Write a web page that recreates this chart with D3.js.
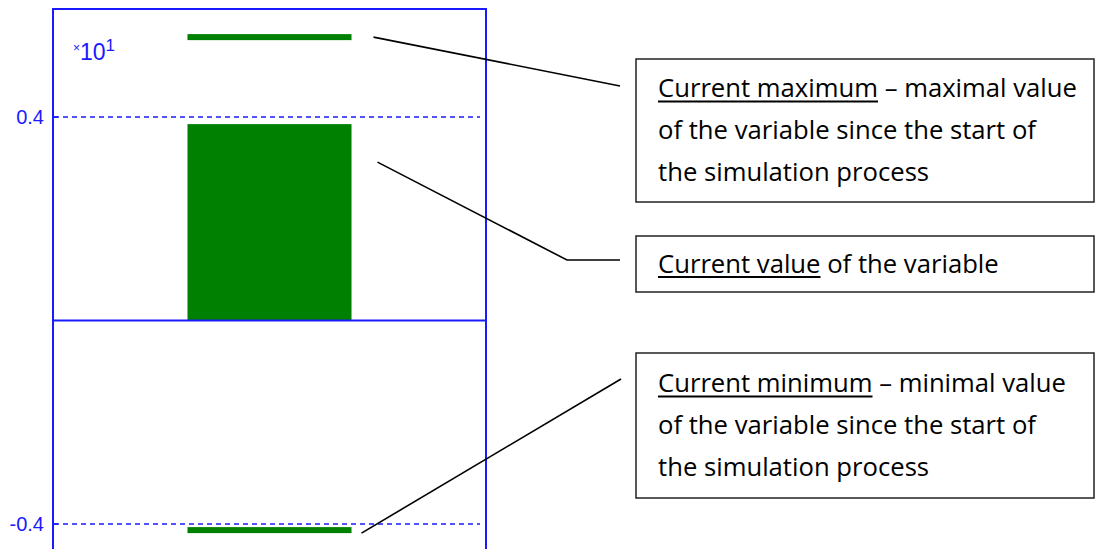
<!DOCTYPE html>
<html>
<head>
<meta charset="utf-8">
<script src="https://cdn.jsdelivr.net/npm/d3@7"></script>
<style>
  html, body { margin: 0; padding: 0; background: #fff; overflow: hidden; }
  svg { display: block; }
</style>
</head>
<body>
<div id="chart"></div>
<script>
// Data (axis is in units of x10^1)
const variable = ["x"];
const currentValue = [0.386];
const currentMax = [0.557];
const currentMin = [-0.412];
const tickValues = [-0.4, 0.4];
const tickLabels = ["-0.4", "0.4"];
const scaleExponent = "1";

// Callout texts: [underlined part, rest of first line], then extra lines
const callouts = [
  { head: "Current maximum", rest: " \u2013 maximal value",
    lines: ["of the variable since the start of", "the simulation process"] },
  { head: "Current value", rest: " of the variable", lines: [] },
  { head: "Current minimum", rest: " \u2013 minimal value",
    lines: ["of the variable since the start of", "the simulation process"] }
];

const width = 1095, height = 549;
const frame = { left: 53, right: 486, top: 9, bottom: 560 };
const blue = "#1a1aff", green = "#008000";

const svg = d3.select("#chart").append("svg")
  .attr("width", width)
  .attr("height", height);

// Scales
const y = d3.scaleLinear()
  .domain([-0.4, 0.4])
  .range([524, 117]);

const x = d3.scaleBand()
  .domain(variable)
  .range([frame.left, frame.right])
  .paddingOuter(0.82)
  .paddingInner(0);

// Dashed grid lines at the ticks
svg.append("g")
  .selectAll("line")
  .data(tickValues)
  .join("line")
    .attr("x1", frame.left + 1)
    .attr("x2", frame.right - 6)
    .attr("y1", d => Math.round(y(d)))
    .attr("y2", d => Math.round(y(d)))
    .attr("stroke", blue)
    .attr("stroke-width", 1.6)
    .attr("stroke-dasharray", "5,4");

// Tick labels
svg.append("g")
  .selectAll("text")
  .data(tickValues)
  .join("text")
    .attr("x", frame.left - 9)
    .attr("y", d => y(d))
    .attr("dy", "0.36em")
    .attr("text-anchor", "end")
    .attr("fill", blue)
    .style("font-family", "'Liberation Sans', Arial, sans-serif")
    .style("font-size", "20px")
    .text((d, i) => tickLabels[i]);

// Current value bar
svg.append("g")
  .selectAll("rect")
  .data(variable)
  .join("rect")
    .attr("x", d => x(d))
    .attr("width", x.bandwidth())
    .attr("y", (d, i) => y(currentValue[i]))
    .attr("height", (d, i) => y(0) - y(currentValue[i]))
    .attr("fill", green);

// Max / min markers
const markers = [...currentMax, ...currentMin];
svg.append("g")
  .selectAll("rect")
  .data(markers)
  .join("rect")
    .attr("x", x(variable[0]))
    .attr("width", x.bandwidth())
    .attr("y", d => y(d) - 3)
    .attr("height", 6)
    .attr("fill", green);

// Frame and zero line
svg.append("rect")
  .attr("x", frame.left)
  .attr("y", frame.top)
  .attr("width", frame.right - frame.left)
  .attr("height", frame.bottom - frame.top)
  .attr("fill", "none")
  .attr("stroke", blue)
  .attr("stroke-width", 2);

svg.append("line")
  .attr("x1", frame.left)
  .attr("x2", frame.right)
  .attr("y1", y(0))
  .attr("y2", y(0))
  .attr("stroke", blue)
  .attr("stroke-width", 2);

// Small tick marks on the left edge
svg.append("g")
  .selectAll("line")
  .data(tickValues)
  .join("line")
    .attr("x1", frame.left)
    .attr("x2", frame.left + 5)
    .attr("y1", d => Math.round(y(d)))
    .attr("y2", d => Math.round(y(d)))
    .attr("stroke", blue)
    .attr("stroke-width", 1.6);

// x10^1 multiplier label
const mult = svg.append("text")
  .attr("x", 73)
  .attr("y", 60)
  .attr("fill", blue)
  .style("font-family", "'Liberation Sans', Arial, sans-serif");
mult.append("tspan").attr("dy", -8).style("font-size", "12px").text("\u00d7");
mult.append("tspan").attr("dy", 8).style("font-size", "23px").text("10");
mult.append("tspan").attr("dy", -9).style("font-size", "17px").text(scaleExponent);

// ----- callout boxes -----
const boxFont = "'Open Sans', 'Noto Sans', sans-serif";
const boxes = [
  { top: 59, bottom: 202 },
  { top: 236, bottom: 292 },
  { top: 353, bottom: 498 }
];
const boxLeft = 636, boxRight = 1094, textLeft = 658, lineGap = 42;

// Fit the font size so the first line of the first box spans about 419px
const probe = svg.append("text")
  .style("font-family", boxFont)
  .style("font-size", "100px")
  .text(callouts[0].head + callouts[0].rest);
const fontSize = 100 * 419 / probe.node().getComputedTextLength();
probe.remove();

boxes.forEach((b, i) => {
  const c = callouts[i];
  svg.append("rect")
    .attr("x", boxLeft)
    .attr("y", b.top)
    .attr("width", boxRight - boxLeft)
    .attr("height", b.bottom - b.top)
    .attr("fill", "#fff")
    .attr("stroke", "#222")
    .attr("stroke-width", 1.5);

  const n = 1 + c.lines.length;
  const mid = (b.top + b.bottom) / 2;
  const firstCenter = mid - (n - 1) * lineGap / 2;

  const t = svg.append("text")
    .attr("x", textLeft)
    .attr("y", firstCenter)
    .attr("dy", "0.35em")
    .attr("fill", "#000")
    .style("font-family", boxFont)
    .style("font-size", fontSize + "px")
    .style("white-space", "pre");
  t.append("tspan").text(c.head);
  t.append("tspan").text(c.rest);

  const headWidth = t.node().getSubStringLength(0, c.head.length);
  const baseY = firstCenter + 0.35 * fontSize;
  svg.append("line")
    .attr("x1", textLeft)
    .attr("x2", textLeft + headWidth)
    .attr("y1", baseY + 4)
    .attr("y2", baseY + 4)
    .attr("stroke", "#000")
    .attr("stroke-width", 2);

  c.lines.forEach((ln, j) => {
    svg.append("text")
      .attr("x", textLeft)
      .attr("y", firstCenter + (j + 1) * lineGap)
      .attr("dy", "0.35em")
      .attr("fill", "#000")
      .style("font-family", boxFont)
      .style("font-size", fontSize + "px")
      .text(ln);
  });
});

// Leader lines from the marks to the callouts
const barRight = x(variable[0]) + x.bandwidth();
const leaders = [
  [[barRight + 22, y(currentMax[0])], [620, 86]],
  [[barRight + 26, y(currentValue[0]) + 38], [567, 260], [620, 260]],
  [[barRight + 10, y(currentMin[0]) + 3], [621, 379]]
];
svg.append("g")
  .selectAll("path")
  .data(leaders)
  .join("path")
    .attr("d", d => d3.line()(d))
    .attr("fill", "none")
    .attr("stroke", "#000")
    .attr("stroke-width", 1.6);
</script>
</body>
</html>
